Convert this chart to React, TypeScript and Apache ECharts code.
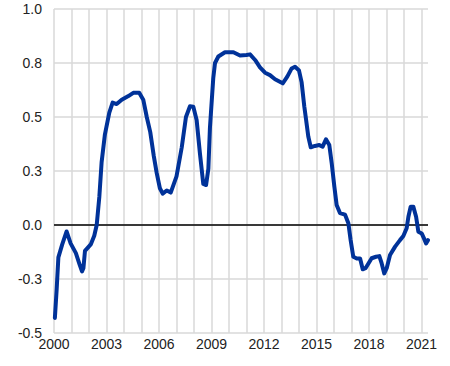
import React, { useEffect, useRef } from "react";
import * as echarts from "echarts";

const years = [
  2000.05, 2000.15, 2000.25, 2000.47, 2000.72, 2000.95, 2001.25, 2001.45, 2001.6, 2001.68,
  2001.77, 2002.1, 2002.3, 2002.44, 2002.59, 2002.72, 2002.91, 2003.16, 2003.35, 2003.58,
  2003.87, 2004.25, 2004.53, 2004.87, 2005.1, 2005.3, 2005.5, 2005.7, 2005.87, 2006.05,
  2006.21, 2006.44, 2006.67, 2007.0, 2007.3, 2007.54, 2007.77, 2007.96, 2008.15, 2008.34,
  2008.53, 2008.69, 2008.82, 2008.91, 2009.1, 2009.2, 2009.39, 2009.77, 2010.25, 2010.63,
  2011.0, 2011.2, 2011.49, 2011.77, 2012.06, 2012.34, 2012.63, 2013.07, 2013.33, 2013.58,
  2013.77, 2014.0, 2014.15, 2014.3, 2014.4, 2014.53, 2014.67, 2014.91, 2015.16, 2015.35,
  2015.54, 2015.73, 2015.87, 2016.02, 2016.15, 2016.34, 2016.63, 2016.82, 2016.95, 2017.1,
  2017.3, 2017.49, 2017.64, 2017.8, 2018.15, 2018.4, 2018.59, 2018.72, 2018.87, 2019.01,
  2019.2, 2019.49, 2019.77, 2019.96, 2020.15, 2020.25, 2020.38, 2020.53, 2020.69, 2020.82,
  2021.01, 2021.14, 2021.26, 2021.37,
];

const values = [
  -0.43, -0.3, -0.15, -0.09, -0.03, -0.085, -0.13, -0.18, -0.215, -0.2,
  -0.12, -0.09, -0.05, 0.0, 0.13, 0.29, 0.42, 0.52, 0.567, 0.56,
  0.58, 0.597, 0.612, 0.612, 0.58, 0.5, 0.43, 0.32, 0.24, 0.17,
  0.145, 0.16, 0.15, 0.225, 0.36, 0.5, 0.55, 0.548, 0.486, 0.33,
  0.19, 0.185, 0.26, 0.45, 0.68, 0.75, 0.78, 0.8, 0.8, 0.785,
  0.787, 0.79, 0.764, 0.73, 0.705, 0.694, 0.675, 0.656, 0.687, 0.725,
  0.733, 0.715, 0.66, 0.55, 0.49, 0.41, 0.36, 0.366, 0.37, 0.363,
  0.397, 0.37, 0.285, 0.177, 0.093, 0.055, 0.048, 0.008, -0.07, -0.147,
  -0.155, -0.155, -0.205, -0.2, -0.154, -0.147, -0.144, -0.177, -0.224, -0.2,
  -0.139, -0.1, -0.07, -0.051, -0.015, 0.038, 0.085, 0.085, 0.038, -0.031,
  -0.039, -0.062, -0.085, -0.07,
];

const xMin = 2000;
const xMax = 2021.37;
const yMin = -0.5;
const yMax = 1.0;
const yStep = 0.25;
const labelEvery = 3;

export default function App() {
  const ref = useRef<HTMLDivElement>(null);
  useEffect(() => {
    if (!ref.current) return;
    const chart = echarts.init(ref.current, undefined, { renderer: "svg" });
    const font = "'Liberation Sans', Arial, sans-serif";
    chart.setOption({
      animation: false,
      grid: { left: 54, right: 22, top: 9, bottom: 33, containLabel: false },
      xAxis: {
        type: "value",
        min: xMin,
        max: xMax,
        interval: 1,
        axisLine: { show: false },
        axisTick: { show: false },
        splitLine: {
          show: true,
          showMaxLine: false,
          lineStyle: { color: "#d9d9d9", width: 1.5 },
        },
        axisLabel: {
          margin: 4,
          color: "#222",
          fontSize: 14,
          fontFamily: font,
          formatter: (v: number) => {
            const r = Math.round(v);
            if (Math.abs(r - v) > 1e-6) return "";
            return (r - xMin) % labelEvery === 0 ? String(r) : "";
          },
        },
      },
      yAxis: {
        type: "value",
        min: yMin,
        max: yMax,
        interval: yStep,
        axisLine: { show: false },
        axisTick: { show: false },
        splitLine: { show: true, lineStyle: { color: "#d9d9d9", width: 1.5 } },
        axisLabel: {
          margin: 12,
          color: "#222",
          fontSize: 14,
          fontFamily: font,
          formatter: (v: number) => v.toFixed(1),
        },
      },
      series: [
        {
          type: "line",
          data: years.map((y, i) => [y, values[i]]),
          showSymbol: false,
          smooth: false,
          lineStyle: { color: "#003299", width: 4, cap: "round", join: "round" },
          itemStyle: { color: "#003299" },
          z: 3,
          markLine: {
            silent: true,
            symbol: "none",
            label: { show: false },
            lineStyle: { color: "#000", width: 1.5, type: "solid" },
            data: [{ yAxis: 0 }],
            z: 2,
          },
        },
      ],
    });
    return () => chart.dispose();
  }, []);
  return (
    <div
      ref={ref}
      style={{ position: "absolute", left: 0, top: 0, width: 450, height: 366 }}
    />
  );
}
